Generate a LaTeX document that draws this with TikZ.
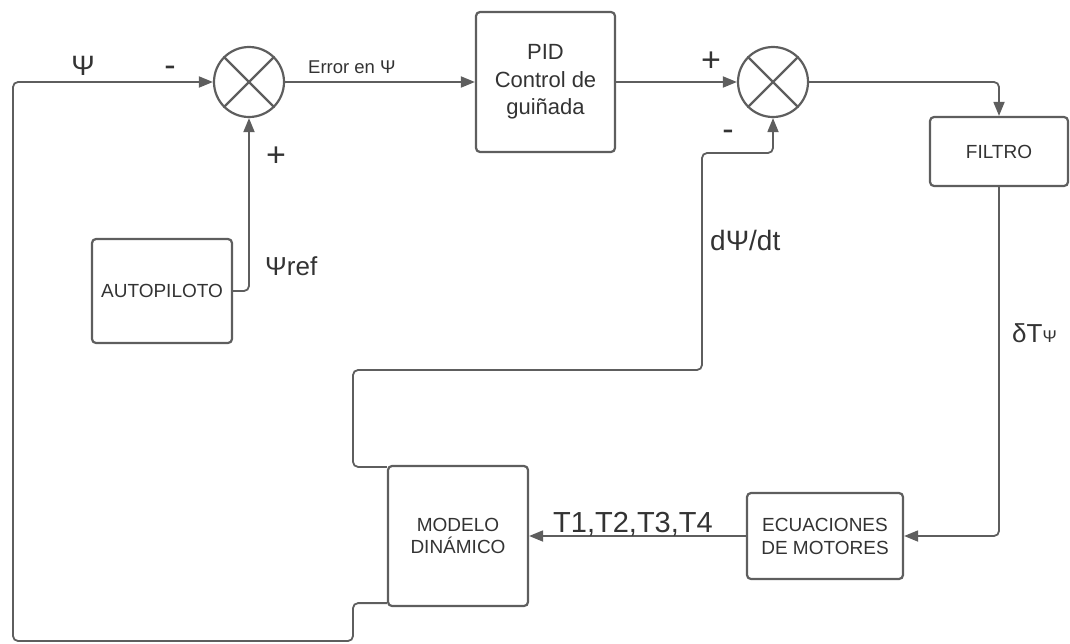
\documentclass[tikz,border=0pt]{standalone}
\usepackage{fontspec}
\setmainfont{Liberation Sans}
\usetikzlibrary{arrows.meta,calc}
\definecolor{ln}{HTML}{5E5E5E}
\definecolor{tx}{HTML}{333333}
\tikzset{
  blk/.style={draw=ln, line width=2.2pt, rounded corners=4pt, inner sep=0pt, align=center, text=tx},
  sumj/.style={circle, draw=ln, line width=2.2pt, minimum size=70pt, inner sep=0pt},
  conn/.style={draw=ln, line width=1.8pt, rounded corners=5pt},
  arr/.style={conn, -{Triangle[length=14pt,width=11pt]}},
  lbl/.style={text=tx, inner sep=0pt},
}
\newcommand{\fs}[2]{\fontsize{#1}{#2}\selectfont}
\begin{document}
\begin{tikzpicture}[x=1pt,y=-1pt]
\useasboundingbox (0,0) rectangle (1070,643);
% blocks
\node[blk, minimum width=139pt, minimum height=140pt, font=\fs{22}{27.5}] (pid) at (545.5,82) {PID\\Control de\\guiñada};
\node[blk, minimum width=140pt, minimum height=104pt, font=\fs{19}{23}] (auto) at (162,291) {AUTOPILOTO};
\node[blk, minimum width=138pt, minimum height=69pt, font=\fs{19}{23}] (filt) at (999,151.5) {FILTRO};
\node[blk, minimum width=156pt, minimum height=86pt, font=\fs{19}{23}] (ecu) at (825,536) {ECUACIONES\\DE MOTORES};
\node[blk, minimum width=140pt, minimum height=140pt, font=\fs{19}{22}] (mod) at (458,536) {MODELO\\DINÁMICO};
% summing junctions
\node[sumj] (s1) at (249,82) {};
\node[sumj] (s2) at (773,82) {};
\foreach \s in {s1,s2}{
  \draw[ln, line width=2.2pt] (\s.45) -- (\s.225);
  \draw[ln, line width=2.2pt] (\s.135) -- (\s.315);
}
% helper coordinates
\coordinate (mt) at ($(mod.north west)+(0,2)$);
\coordinate (mb) at ($(mod.south west)+(0,-4)$);
\coordinate (c1) at (353,370);
\coordinate (c2) at (702,153);
\coordinate (f1) at (353,641);
\coordinate (f2) at (13,641);
\coordinate (f3) at (13,82);
% connectors
\draw[arr] (s1.east) -- (pid.west);
\draw[arr] (pid.east) -- (s2.west);
\draw[arr] (s2.east) -| (filt.north);
\draw[arr] (filt.south) |- (ecu.east);
\draw[arr] (ecu.west) -- (mod.east);
\draw[arr] (auto.east) -| (s1.south);
\draw[arr] (mt) -| (c1) -| (c2) -| (s2.south);
\draw[arr] (mb) -| (f1) -- (f2) -- (f3) -- (s1.west);
% labels
\node[lbl, font=\fs{28}{28}] (lpsi) at (83,66) {Ψ};
\node[lbl, font=\fs{34}{34}] (lm1) at (170,71) {-};
\node[lbl, font=\fs{34}{34}] (lp1) at (276,157) {+};
\node[lbl, font=\fs{18.5}{18.5}, anchor=base west] (lerr) at (308,73) {Error en Ψ};
\node[lbl, font=\fs{34}{34}] (lp2) at (711,62) {+};
\node[lbl, font=\fs{34}{34}] (lm2) at (728,135) {-};
\node[lbl, font=\fs{26}{26}, anchor=base west] (lref) at (265,275) {Ψref};
\node[lbl, font=\fs{28}{28}, anchor=base west] (ldpsi) at (710,250) {dΨ/dt};
\node[lbl, font=\fs{26}{26}, anchor=base west] (ldt) at (1012,342) {δT{\fs{17}{17}Ψ}};
\node[lbl, font=\fs{29}{29}, anchor=base west] (lT) at (553,532) {T1,T2,T3,T4};
\end{tikzpicture}
\end{document}
